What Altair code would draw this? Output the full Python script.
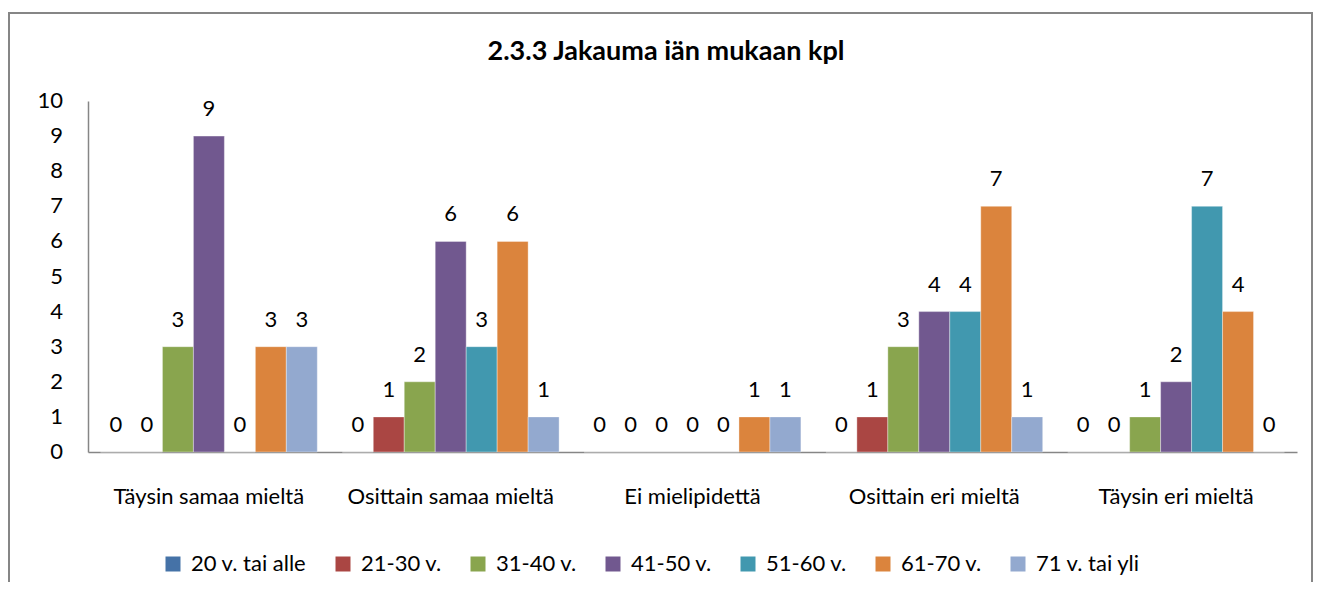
import altair as alt
import pandas as pd

categories = ["Täysin samaa mieltä", "Osittain samaa mieltä", "Ei mielipidettä",
              "Osittain eri mieltä", "Täysin eri mieltä"]
series = ["20 v. tai alle", "21-30 v.", "31-40 v.", "41-50 v.", "51-60 v.",
          "61-70 v.", "71 v. tai yli"]
values = {
    "20 v. tai alle": [0, 0, 0, 0, 0],
    "21-30 v.": [0, 1, 0, 1, 0],
    "31-40 v.": [3, 2, 0, 3, 1],
    "41-50 v.": [9, 6, 0, 4, 2],
    "51-60 v.": [0, 3, 0, 4, 7],
    "61-70 v.": [3, 6, 1, 7, 4],
    "71 v. tai yli": [3, 1, 1, 1, 0],
}
y_ticks = [0, 1, 2, 3, 4, 5, 6, 7, 8, 9, 10]
colors = ["#4572A7", "#AA4643", "#89A54E", "#71588F", "#4198AF", "#DB843D", "#93A9CF"]
title_text = "2.3.3 Jakauma iän mukaan kpl"

rows = []
for s in series:
    for c, v in zip(categories, values[s]):
        rows.append({"kategoria": c, "ikä": s, "kpl": v})
df = pd.DataFrame(rows)
tick_df = pd.DataFrame({"kpl": y_ticks})

FONT = "Lato"
FS = 22
W, H = 1209, 351

x = alt.X("kategoria:N", sort=categories, title=None,
          scale=alt.Scale(paddingInner=0.1034, paddingOuter=0.0517),
          axis=alt.Axis(labelAngle=0, labelFontSize=FS, labelFont=FONT, labelColor="black",
                        domainColor="#868686", domainWidth=1.5, ticks=False,
                        labelPadding=34, labelLimit=0))
xo = alt.XOffset("ikä:N", sort=series, scale=alt.Scale(paddingInner=0, paddingOuter=0))
y = alt.Y("kpl:Q", title=None,
          scale=alt.Scale(domain=[0, 10], nice=False),
          axis=alt.Axis(grid=False, ticks=False, labels=False,
                        domainColor="#868686", domainWidth=1.5))

bars = alt.Chart(df).mark_bar(stroke="white", strokeWidth=0.6, strokeOpacity=0.6).encode(
    x=x, xOffset=xo, y=y,
    color=alt.Color("ikä:N", sort=series, scale=alt.Scale(domain=series, range=colors),
                    legend=alt.Legend(title=None, orient="none", direction="horizontal",
                                      columns=7, legendX=74, legendY=452,
                                      symbolType="square", symbolSize=225,
                                      symbolStrokeWidth=0, labelFontSize=FS,
                                      labelFont=FONT, labelColor="black", labelLimit=0,
                                      labelOffset=7, columnPadding=25, padding=0)),
)

labels = alt.Chart(df).mark_text(baseline="alphabetic", dy=-20, fontSize=FS,
                                 font=FONT, color="black").encode(
    x=x, xOffset=xo, y=y, text="kpl:Q",
)

ytick_labels = alt.Chart(tick_df).mark_text(baseline="middle", align="right", fontSize=FS,
                                            font=FONT, color="black").encode(
    x=alt.value(-25), y=y, text="kpl:Q",
)

one = pd.DataFrame({"t": [title_text]})
title = alt.Chart(one).mark_text(fontSize=27, font=FONT, fontWeight="bold", color="black",
                                 baseline="middle", align="center").encode(
    text="t:N", x=alt.value(578), y=alt.value(-49))

border_l = alt.Chart(one).mark_rule(color="#868686", strokeWidth=2).encode(
    x=alt.value(-79), y=alt.value(-88), y2=alt.value(500))
border_t = alt.Chart(one).mark_rule(color="#868686", strokeWidth=2).encode(
    x=alt.value(-80), x2=alt.value(1225), y=alt.value(-88))
border_r = alt.Chart(one).mark_rule(color="#868686", strokeWidth=2).encode(
    x=alt.value(1224), y=alt.value(-88), y2=alt.value(500))

chart = alt.layer(bars, labels, ytick_labels, title, border_l, border_t, border_r).properties(
    width=W, height=H,
    autosize=alt.AutoSizeParams(type="none"),
    padding={"left": 80, "top": 93, "right": 17, "bottom": 130},
).configure_view(stroke=None)

chart.save("out.html", embed_options={"renderer": "svg", "actions": False})
